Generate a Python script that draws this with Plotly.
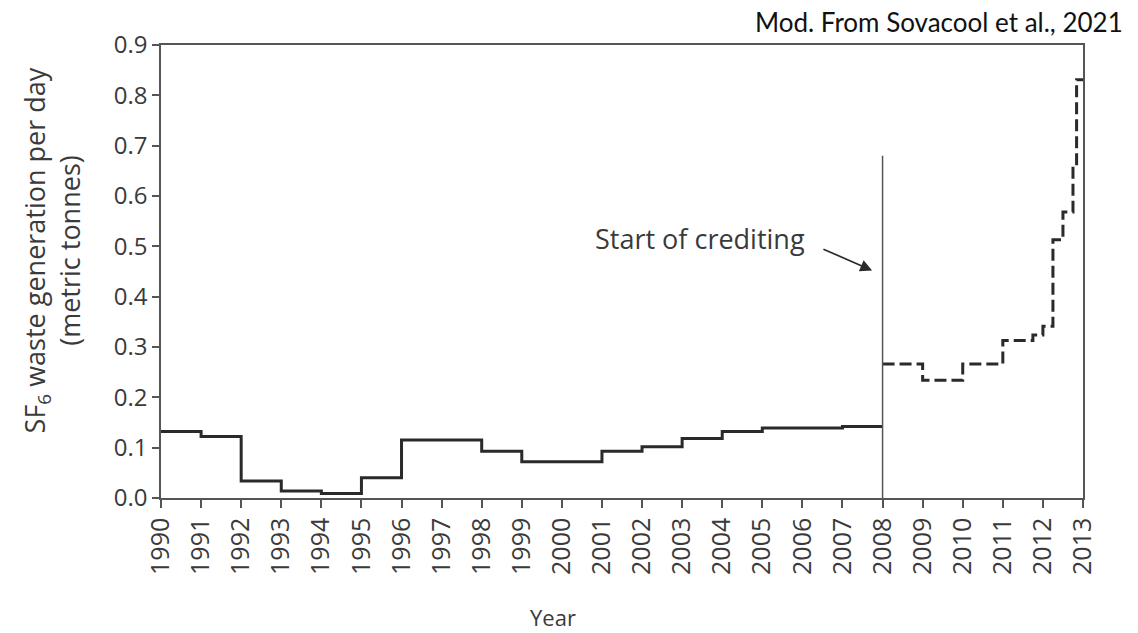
import plotly.graph_objects as go

# ---- data ----
solid_years = [1990, 1991, 1992, 1993, 1994, 1995, 1996, 1997, 1998, 1999,
               2000, 2001, 2002, 2003, 2004, 2005, 2006, 2007, 2008]
solid_values = [0.132, 0.122, 0.034, 0.014, 0.009, 0.040, 0.115, 0.115, 0.093, 0.072,
                0.072, 0.093, 0.102, 0.118, 0.132, 0.139, 0.139, 0.142, 0.142]

dashed_years = [2008, 2009, 2010, 2011, 2011.75, 2012, 2012.25, 2012.5, 2012.75, 2012.84, 2013]
dashed_values = [0.266, 0.234, 0.266, 0.313, 0.324, 0.341, 0.513, 0.568, 0.659, 0.831, 0.831]

crediting_year = 2008
crediting_line = [0.0, 0.68]

tick_years = list(range(1990, 2014))
y_ticks = [0.0, 0.1, 0.2, 0.3, 0.4, 0.5, 0.6, 0.7, 0.8, 0.9]

line_col = "#2a2a2a"
axis_col = "#555555"
text_col = "#3a3a3a"
font_fam = "Open Sans"

fig = go.Figure()
fig.add_trace(go.Scatter(x=solid_years, y=solid_values, mode="lines",
                         line=dict(shape="hv", color=line_col, width=3),
                         showlegend=False, hoverinfo="skip"))
fig.add_trace(go.Scatter(x=dashed_years, y=dashed_values, mode="lines",
                         line=dict(shape="hv", color=line_col, width=3, dash="12px,5px"),
                         showlegend=False, hoverinfo="skip"))
fig.add_trace(go.Scatter(x=[crediting_year, crediting_year], y=crediting_line, mode="lines",
                         line=dict(color=axis_col, width=1.5),
                         showlegend=False, hoverinfo="skip"))

fig.add_annotation(x=2007.74, y=0.452, ax=2006.45, ay=0.497, xref="x", yref="y",
                   axref="x", ayref="y", text=" ", showarrow=True,
                   arrowhead=2, arrowsize=1.4, arrowwidth=1.7, arrowcolor="#2a2a2a")
fig.add_annotation(x=2000.78, y=0.516, xref="x", yref="y", text="Start of crediting",
                   showarrow=False, xanchor="left", yanchor="middle",
                   font=dict(family=font_fam, size=27, color=text_col))

fig.add_annotation(x=-0.118, y=0.547, xref="paper", yref="paper",
                   text="SF<sub>6</sub> waste generation per day<br>(metric tonnes)",
                   textangle=-90, showarrow=False, xanchor="center", yanchor="middle",
                   font=dict(family=font_fam, size=27, color=text_col))
fig.add_annotation(x=1.0456, y=1.05, xref="paper", yref="paper", xanchor="right", yanchor="middle",
                   text="Mod. From Sovacool et al., 2021", showarrow=False,
                   font=dict(family="Lato", size=26, color="#111111"))
fig.add_annotation(x=0.425, y=-0.262, xref="paper", yref="paper", xanchor="center", yanchor="middle",
                   text="Year", showarrow=False,
                   font=dict(family=font_fam, size=22, color=text_col))

fig.update_xaxes(range=[1990, 2013], tickmode="array", tickvals=tick_years,
                 ticktext=[str(y) for y in tick_years], tickangle=-90,
                 ticks="outside", ticklen=8, tickwidth=1.5, tickcolor=axis_col,
                 showline=True, linecolor=axis_col, linewidth=1.5, mirror=True,
                 showgrid=False, zeroline=False,
                 tickfont=dict(family=font_fam, size=25, color=text_col))
fig.update_yaxes(range=[0, 0.9], tickmode="array", tickvals=y_ticks,
                 ticktext=[f"{v:.1f}" for v in y_ticks],
                 ticks="outside", ticklen=7, tickwidth=1.5, tickcolor=axis_col,
                 showline=True, linecolor=axis_col, linewidth=1.5, mirror=True,
                 showgrid=False, zeroline=False,
                 tickfont=dict(family=font_fam, size=24, color=text_col))

fig.update_layout(width=1138, height=633, plot_bgcolor="white", paper_bgcolor="white",
                  margin=dict(l=153, r=63, t=37, b=143))

fig.write_html("out.html")
